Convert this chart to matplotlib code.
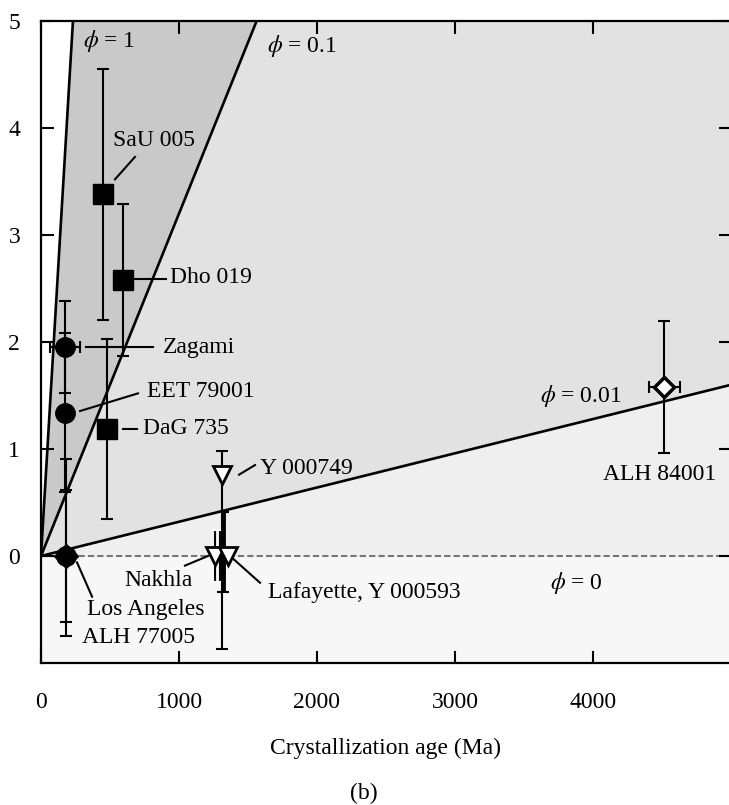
import numpy as np
import matplotlib.pyplot as plt
from matplotlib import patheffects as pe

plt.rcParams['font.family'] = ['Liberation Serif', 'DejaVu Serif']
plt.rcParams['mathtext.fontset'] = 'stix'
plt.rcParams['font.size'] = 17

# phi lines (slope in y-units per Ma), all through the origin
phi_labels = ['1', '0.1', '0.01']
phi_slopes = [0.0216, 0.0032, 0.00032]

# meteorites: name, age (Ma), value, errors
sq_names = ['SaU 005', 'Dho 019', 'DaG 735']
sq_age = [447, 592, 481]
sq_val = [3.38, 2.58, 1.19]
sq_err = [1.17, 0.71, 0.84]

ci_names = ['Zagami', 'EET 79001']
ci_age = [174, 174]
ci_val = [1.95, 1.34]
ci_err = [0.43, 0.74]
zagami_age_err = 110

la_age, la_val, la_err_lo, la_err_hi = 180, 0.0, 0.75, 0.91
alh77_age, alh77_val, alh77_err = 180, 0.0, 0.62

y749_age, y749_val, y749_lo, y749_hi = 1309, 0.76, 1.63, 0.22
nak_age, nak_val, nak_bar_age, nak_err = 1261, 0.0, 1275, 0.24
laf_age, laf_val, laf_bar_age, laf_lo, laf_hi = 1355, 0.0, 1321, 0.34, 0.41

alh84_age, alh84_val, alh84_err, alh84_age_err = 4517, 1.58, 0.615, 110

fig = plt.figure(figsize=(7.29, 8.05), dpi=100)
ax = fig.add_axes([41/729, 1-663/805, 690/729, 642/805])
ax.set_xlim(0, 5000)
ax.set_ylim(-1, 5)

#shaded regions
xx = np.linspace(0, 5000, 200)
ax.axhspan(-1, 0, color='#f7f7f7', zorder=0)
ax.fill_between(xx, 0, phi_slopes[2]*xx, color='#efefef', lw=0, zorder=0)
ax.fill_between(xx, phi_slopes[2]*xx, phi_slopes[1]*xx, color='#e2e2e2', lw=0, zorder=0)
ax.fill_between(xx, phi_slopes[1]*xx, phi_slopes[0]*xx, color='#c9c9c9', lw=0, zorder=0)
for s in phi_slopes:
    ax.plot(xx, s*xx, color='black', lw=1.9, zorder=2)
ax.axhline(0, color='#777777', lw=1.5, ls=(0, (3, 1.5)), zorder=1)

ekw = dict(ecolor='black', elinewidth=1.5, capsize=4, capthick=1.5, zorder=3)

# error bars
ax.errorbar(sq_age, sq_val, yerr=sq_err, fmt='none', **ekw)
ax.errorbar(ci_age[0], ci_val[0], yerr=ci_err[0], xerr=zagami_age_err, fmt='none', **ekw)
ax.errorbar(ci_age[1], ci_val[1], yerr=ci_err[1], fmt='none', **ekw)
ax.errorbar(la_age, la_val, yerr=[[la_err_lo], [la_err_hi]], fmt='none', **ekw)
ax.errorbar(alh77_age, alh77_val, yerr=alh77_err, fmt='none', **ekw)
ax.errorbar(y749_age, y749_val, yerr=[[y749_lo], [y749_hi]], fmt='none', **ekw)
eb = ax.errorbar(nak_bar_age, nak_val, yerr=nak_err, fmt='none', ecolor='white',
                 elinewidth=2, capsize=4, capthick=1.5, zorder=3)
for c in eb.lines[2]:
    c.set_path_effects([pe.Stroke(linewidth=5, foreground='black'), pe.Normal()])
ax.errorbar(laf_bar_age, laf_val, yerr=[[laf_lo], [laf_hi]], fmt='none', ecolor='black',
            elinewidth=3.5, capsize=4, capthick=1.5, zorder=3)
ax.errorbar(alh84_age, alh84_val, yerr=alh84_err, xerr=alh84_age_err, fmt='none', **ekw)

# markers
ax.plot(sq_age, sq_val, 's', color='black', ms=14, zorder=4)
ax.plot(ci_age, ci_val, 'o', color='black', ms=14, zorder=4)
ax.plot(la_age, la_val, 'o', color='black', ms=14, zorder=4)
ax.plot(alh77_age, alh77_val, 'D', color='black', ms=12, zorder=4)
ax.plot([y749_age, nak_age, laf_age], [y749_val, nak_val, laf_val], 'v',
        mfc='white', mec='black', mew=2, ms=13, zorder=4)
ax.plot(alh84_age, alh84_val, 'D', mfc='white', mec='black', mew=2.5, ms=10, zorder=4)

# labels with leader lines
def leader(x0, y0, x1, y1):
    ax.plot([x0, x1], [y0, y1], color='black', lw=1.5, zorder=3)

leader(536, 3.52, 681, 3.73)
ax.text(522, 3.88, sq_names[0], va='center')
leader(659, 2.59, 906, 2.59)
ax.text(935, 2.60, sq_names[1], va='center')
leader(326, 1.95, 812, 1.95)
ax.text(884, 1.95, ci_names[0], va='center')
leader(283, 1.355, 703, 1.52)
ax.text(768, 1.54, ci_names[1], va='center')
leader(592, 1.19, 693, 1.19)
ax.text(737, 1.19, sq_names[2], va='center')
leader(1435, 0.76, 1551, 0.85)
ax.text(1587, 0.82, 'Y 000749', va='center')
leader(1043, -0.09, 1210, 0.0)
ax.text(1101, -0.23, 'Nakhla', ha='right', va='center')
leader(261, -0.06, 370, -0.38)
ax.text(333, -0.50, 'Los Angeles', va='center')
ax.text(297, -0.76, 'ALH 77005', va='center')
leader(1370, 0.0, 1587, -0.25)
ax.text(1645, -0.34, 'Lafayette, Y 000593', va='center')
ax.text(4486, 0.76, 'ALH 84001', ha='center', va='center')

ax.text(304, 4.81, r'$\phi$ = ' + phi_labels[0], va='center')
ax.text(1638, 4.77, r'$\phi$ = ' + phi_labels[1], va='center')
ax.text(3616, 1.50, r'$\phi$ = ' + phi_labels[2], va='center')
ax.text(3688, -0.25, r'$\phi$ = 0', va='center')

# axes styling
ax.set_xticks([0, 1000, 2000, 3000, 4000])
ax.set_yticks([0, 1, 2, 3, 4, 5])
ax.tick_params(direction='in', length=9, width=1.5, top=True, right=True)
ax.tick_params(axis='x', pad=21)
ax.tick_params(axis='y', pad=15)
for sp in ax.spines.values():
    sp.set_linewidth(1.6)
ax.set_xlabel('Crystallization age (Ma)')
ax.xaxis.set_label_coords(0.5, -0.117)
fig.text(364/729, 1-793/805, '(b)', ha='center', va='center')

plt.savefig('out.png', dpi=100)
